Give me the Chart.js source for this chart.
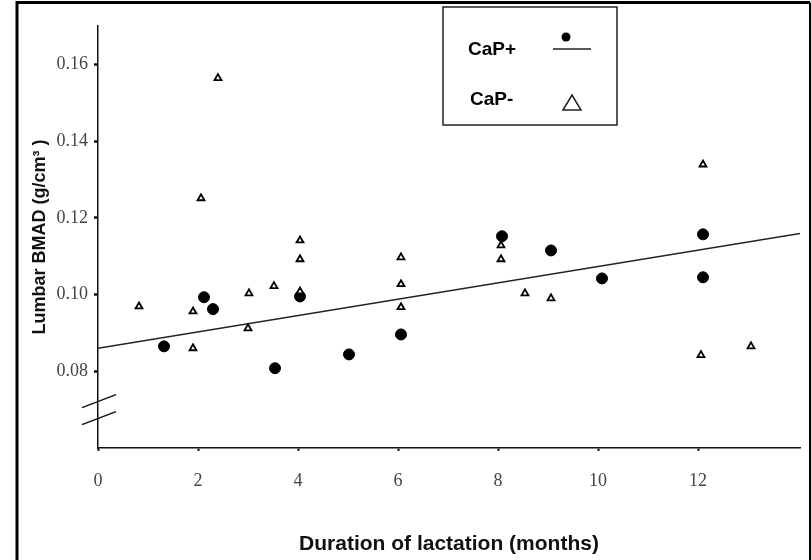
<!DOCTYPE html>
<html lang="en">

<head>
    <meta charset="UTF-8">
    <meta name="viewport" content="width=device-width, initial-scale=1.0">
    <title>Lumbar BMAD vs duration of lactation</title>
    <script src="https://cdn.jsdelivr.net/npm/chart.js"></script>
    <style>
        html, body { margin: 0; padding: 0; background: #fff; }
        #quadro { position: relative; width: 811px; height: 560px; }
    </style>
</head>

<body>
    <div id="quadro">
        <canvas id="graficoBmad" width="811" height="560"></canvas>
    </div>

    <script>
        // CaP+ group (filled dots)
        const mesesCapPos = [1.32, 2.12, 2.3, 3.54, 4.04, 5.02, 6.06, 8.08, 9.06, 10.08, 12.1, 12.1];
        const bmadCapPos = [0.0865, 0.0993, 0.0962, 0.0808, 0.0995, 0.0844, 0.0896, 0.1152, 0.1115, 0.1042, 0.1157, 0.1045];

        // CaP- group (open triangles)
        const mesesCapNeg = [0.82, 1.9, 1.9, 2.06, 2.4, 3.0, 3.02, 3.52, 4.04, 4.04, 4.04, 6.06, 6.06, 6.06, 8.06, 8.06, 8.54, 9.06, 12.1, 12.06, 13.06];
        const bmadCapNeg = [0.0969, 0.0956, 0.086, 0.1251, 0.1564, 0.0912, 0.1003, 0.1022, 0.1141, 0.1092, 0.1008, 0.1097, 0.1027, 0.0967, 0.1128, 0.1092, 0.1003, 0.099, 0.1339, 0.0842, 0.0865];

        // regression line (two end points)
        const mesesReta = [0, 14.04];
        const bmadReta = [0.086, 0.1159];

        // axis ticks
        const ticksX = [0, 2, 4, 6, 8, 10, 12];
        const ticksY = [0.08, 0.10, 0.12, 0.14, 0.16];

        const paraPontos = (xs, ys) => xs.map((x, i) => ({ x: x, y: ys[i] }));

        // outer frame (left, top, right)
        const moldura = {
            id: 'moldura',
            afterDraw(chart) {
                const ctx = chart.ctx;
                ctx.save();
                ctx.strokeStyle = '#000';
                ctx.lineWidth = 3;
                ctx.beginPath();
                ctx.moveTo(17, 560);
                ctx.lineTo(17, 2.5);
                ctx.lineTo(810, 2.5);
                ctx.stroke();
                ctx.lineWidth = 2;
                ctx.beginPath();
                ctx.moveTo(810, 2.5);
                ctx.lineTo(810, 560);
                ctx.stroke();
                ctx.restore();
            }
        };

        // axis break marks on the y axis
        const quebraEixo = {
            id: 'quebraEixo',
            afterDraw(chart) {
                const ctx = chart.ctx;
                const x0 = chart.chartArea.left;
                const yc = chart.scales.y.getPixelForValue(0.07);
                ctx.save();
                ctx.strokeStyle = '#111';
                ctx.lineWidth = 1.5;
                [-8.5, 8.5].forEach(d => {
                    ctx.beginPath();
                    ctx.moveTo(x0 - 16, yc + d + 6.5);
                    ctx.lineTo(x0 + 18, yc + d - 6.5);
                    ctx.stroke();
                });
                ctx.restore();
            }
        };

        // boxed legend, label on the left and symbol on the right
        const legendaCaixa = {
            id: 'legendaCaixa',
            afterDraw(chart) {
                const ctx = chart.ctx;
                ctx.save();
                ctx.strokeStyle = '#222';
                ctx.lineWidth = 1.5;
                ctx.strokeRect(443, 7, 174, 118);

                ctx.fillStyle = '#000';
                ctx.font = 'bold 19px "Liberation Sans", Arial, sans-serif';
                ctx.textBaseline = 'middle';
                ctx.textAlign = 'left';
                ctx.fillText('CaP+', 468, 50);
                ctx.fillText('CaP-', 470, 100);

                // dot + line
                ctx.beginPath();
                ctx.arc(566, 37, 4.5, 0, Math.PI * 2);
                ctx.fill();
                ctx.lineWidth = 1.5;
                ctx.beginPath();
                ctx.moveTo(553, 49);
                ctx.lineTo(591, 49);
                ctx.stroke();

                // open triangle
                ctx.beginPath();
                ctx.moveTo(572, 95);
                ctx.lineTo(563, 110);
                ctx.lineTo(581, 110);
                ctx.closePath();
                ctx.stroke();
                ctx.restore();
            }
        };

        const dados = {
            datasets: [
                {
                    label: 'CaP-',
                    type: 'scatter',
                    data: paraPontos(mesesCapNeg, bmadCapNeg),
                    pointStyle: 'triangle',
                    pointRadius: 4,
                    backgroundColor: '#fff',
                    borderColor: '#000',
                    borderWidth: 1.8
                },
                {
                    label: 'CaP+',
                    type: 'scatter',
                    data: paraPontos(mesesCapPos, bmadCapPos),
                    pointStyle: 'circle',
                    pointRadius: 5.5,
                    backgroundColor: '#000',
                    borderColor: '#000',
                    borderWidth: 1
                },
                {
                    label: 'Regressão CaP+',
                    type: 'line',
                    data: paraPontos(mesesReta, bmadReta),
                    borderColor: '#222',
                    borderWidth: 1.5,
                    pointRadius: 0,
                    fill: false
                }
            ]
        };

        const config = {
            type: 'scatter',
            data: dados,
            options: {
                responsive: false,
                animation: false,
                layout: { padding: { left: 0, right: 11, top: 26, bottom: 0 } },
                plugins: {
                    legend: { display: false },
                    tooltip: { enabled: false }
                },
                scales: {
                    x: {
                        type: 'linear',
                        min: 0,
                        max: 14.04,
                        afterFit: s => { s.height = 112; },
                        afterBuildTicks: s => { s.ticks = ticksX.map(v => ({ value: v })); },
                        border: { color: '#111', width: 1.5 },
                        grid: { drawOnChartArea: false, drawTicks: true, tickLength: 3, tickWidth: 2, color: '#111' },
                        ticks: {
                            padding: 19,
                            color: '#444',
                            font: { family: '"Liberation Serif", "Times New Roman", serif', size: 18 },
                            callback: v => String(v)
                        },
                        title: {
                            display: true,
                            text: 'Duration of lactation (months)',
                            color: '#111',
                            font: { family: '"Liberation Sans", Arial, sans-serif', size: 21, weight: 'bold' },
                            padding: { top: 0, bottom: 3 }
                        }
                    },
                    y: {
                        type: 'linear',
                        min: 0.06,
                        max: 0.17,
                        afterFit: s => { s.width = 98; },
                        afterBuildTicks: s => { s.ticks = ticksY.map(v => ({ value: v })); },
                        border: { color: '#111', width: 1.5 },
                        grid: { drawOnChartArea: false, drawTicks: true, tickLength: 4, tickWidth: 2.5, color: '#111' },
                        ticks: {
                            padding: 6,
                            color: '#444',
                            font: { family: '"Liberation Serif", "Times New Roman", serif', size: 18 },
                            callback: v => v.toFixed(2)
                        },
                        title: {
                            display: true,
                            text: 'Lumbar BMAD (g/cm³ )',
                            color: '#111',
                            font: { family: '"Liberation Sans", Arial, sans-serif', size: 18, weight: 'bold' },
                            padding: { top: 29, bottom: 0 }
                        }
                    }
                }
            },
            plugins: [quebraEixo, legendaCaixa, moldura]
        };

        new Chart(document.getElementById('graficoBmad'), config);
    </script>
</body>

</html>
